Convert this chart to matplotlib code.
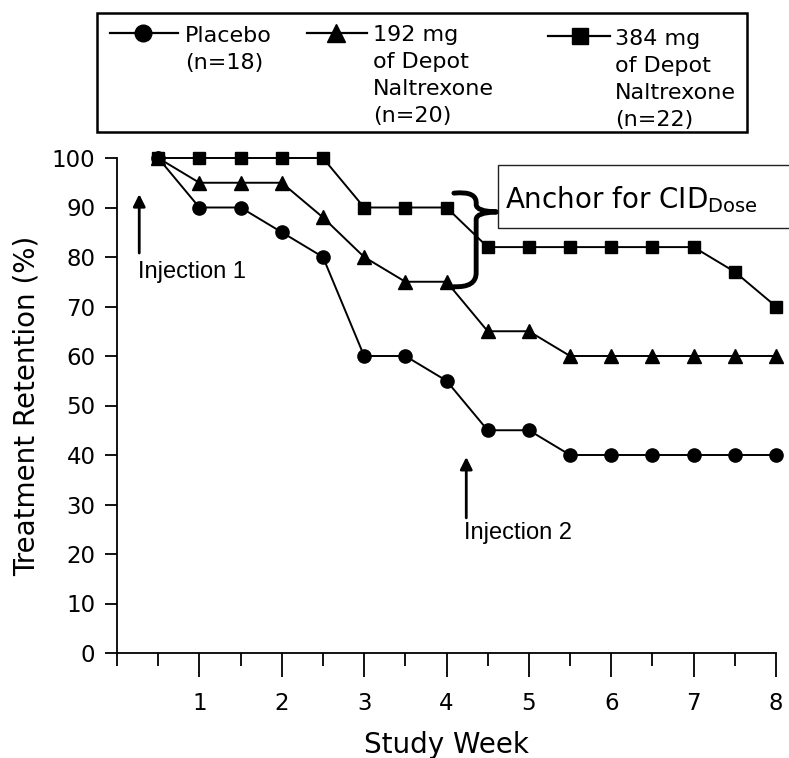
import matplotlib
matplotlib.use('Agg')
import matplotlib.pyplot as plt
from matplotlib.lines import Line2D
from matplotlib.patches import Rectangle, PathPatch
from matplotlib.path import Path

# data
weeks = [0.5, 1, 1.5, 2, 2.5, 3, 3.5, 4, 4.5, 5, 5.5, 6, 6.5, 7, 7.5, 8]
placebo = [100, 90, 90, 85, 80, 60, 60, 55, 45, 45, 40, 40, 40, 40, 40, 40]
dose192 = [100, 95, 95, 95, 88, 80, 75, 75, 65, 65, 60, 60, 60, 60, 60, 60]
dose384 = [100, 100, 100, 100, 100, 90, 90, 90, 82, 82, 82, 82, 82, 82, 77, 70]

series_labels = [['Placebo', '(n=18)'],
                 ['192 mg', 'of Depot', 'Naltrexone', '(n=20)'],
                 ['384 mg', 'of Depot', 'Naltrexone', '(n=22)']]
series_markers = ['o', '^', 's']

W, H = 789, 758
plt.rcParams['font.family'] = ['DejaVu Sans']

fig = plt.figure(figsize=(W / 100, H / 100), dpi=100)
ax = fig.add_axes([117 / W, 1 - 653 / H, 659 / W, 495 / H])


def fx(px):
    return px / W


def fy(py):
    return 1 - py / H


ms = {'o': 9.5, '^': 10, 's': 8.8}
for vals, m in zip([placebo, dose192, dose384], series_markers):
    ax.plot(weeks, vals, marker=m, color='black', lw=1.4, markersize=ms[m],
            clip_on=False, zorder=3)

ax.set_xlim(0, 8)
ax.set_ylim(0, 100)
ax.set_xticks(range(1, 9))
ax.set_xticks([0, 0.5, 1.5, 2.5, 3.5, 4.5, 5.5, 6.5, 7.5], minor=True)
ax.set_yticks(range(0, 101, 10))
ax.spines['top'].set_visible(False)
ax.spines['right'].set_visible(False)
for s in ['left', 'bottom']:
    ax.spines[s].set_linewidth(1.3)
ax.tick_params(axis='x', which='major', length=17, width=1.3, pad=11, labelsize=16.5)
ax.tick_params(axis='x', which='minor', length=9, width=1.3)
ax.tick_params(axis='y', which='major', length=8.5, width=1.3, pad=7, labelsize=16.5)

ax.set_xlabel('Study Week', fontsize=20)
ax.xaxis.set_label_coords(0.5, -0.158)
ax.xaxis.label.set_va('top')
ax.set_ylabel('Treatment Retention (%)', fontsize=20, labelpad=8)

# injection arrows
arrow = dict(arrowstyle='-|>', lw=2, color='black', mutation_scale=18,
             shrinkA=0, shrinkB=0)
ax.annotate('', xy=(0.27, 92.7), xytext=(0.27, 80.8), arrowprops=arrow)
ax.text(0.26, 77.0, 'Injection 1', family='Liberation Sans', fontsize=17,
        va='center', ha='left')
ax.annotate('', xy=(4.24, 39.6), xytext=(4.24, 27.3), arrowprops=arrow)
ax.text(4.21, 24.2, 'Injection 2', family='Liberation Sans', fontsize=17,
        va='center', ha='left')

# curly brace between 384 mg and 192 mg at week 4
verts = [(4.09, 92.9), (4.38, 93.4), (4.36, 90.6),
         (4.36, 89.2), (4.61, 89.1),
         (4.36, 89.0), (4.36, 87.6),
         (4.36, 76.8),
         (4.36, 73.8), (4.09, 74.0)]
codes = [Path.MOVETO, Path.CURVE3, Path.CURVE3,
         Path.CURVE3, Path.CURVE3,
         Path.CURVE3, Path.CURVE3,
         Path.LINETO,
         Path.CURVE3, Path.CURVE3]
ax.add_patch(PathPatch(Path(verts, codes), fill=False, lw=3.5, color='black',
                       capstyle='round', joinstyle='round', clip_on=False, zorder=4))

# anchor box
fig.patches.append(Rectangle((fx(498), fy(228)), fx(W + 20) - fx(498), fy(165) - fy(228),
                             transform=fig.transFigure, fill=False, lw=1.0,
                             edgecolor='#222222', clip_on=False))
fig.text(fx(505), fy(208), r'Anchor for CID$_{\mathrm{Dose}}$', fontsize=20,
         va='baseline', ha='left')

# legend box drawn at the top
fig.patches.append(Rectangle((fx(97), fy(132)), fx(747) - fx(97), fy(13) - fy(132),
                             transform=fig.transFigure, fill=False, lw=1.8,
                             edgecolor='black'))
leg_lines = [(110, 178, 143, 33), (307, 367, 336, 33), (548, 610, 580, 36)]
leg_text = [(185, 42), (373, 41), (615, 45)]
leg_ms = {'o': 12, '^': 12.5, 's': 12}
for (x0, x1, xm, y), (tx, ty), m, lines in zip(leg_lines, leg_text,
                                                 series_markers, series_labels):
    fig.add_artist(Line2D([fx(x0), fx(x1)], [fy(y), fy(y)], color='black', lw=1.6,
                          transform=fig.transFigure))
    fig.add_artist(Line2D([fx(xm)], [fy(y)], marker=m, markersize=leg_ms[m],
                          color='black', transform=fig.transFigure))
    for i, line in enumerate(lines):
        fig.text(fx(tx), fy(ty + 27 * i), line, fontsize=16, va='baseline', ha='left')

fig.savefig('out.png', dpi=100)
